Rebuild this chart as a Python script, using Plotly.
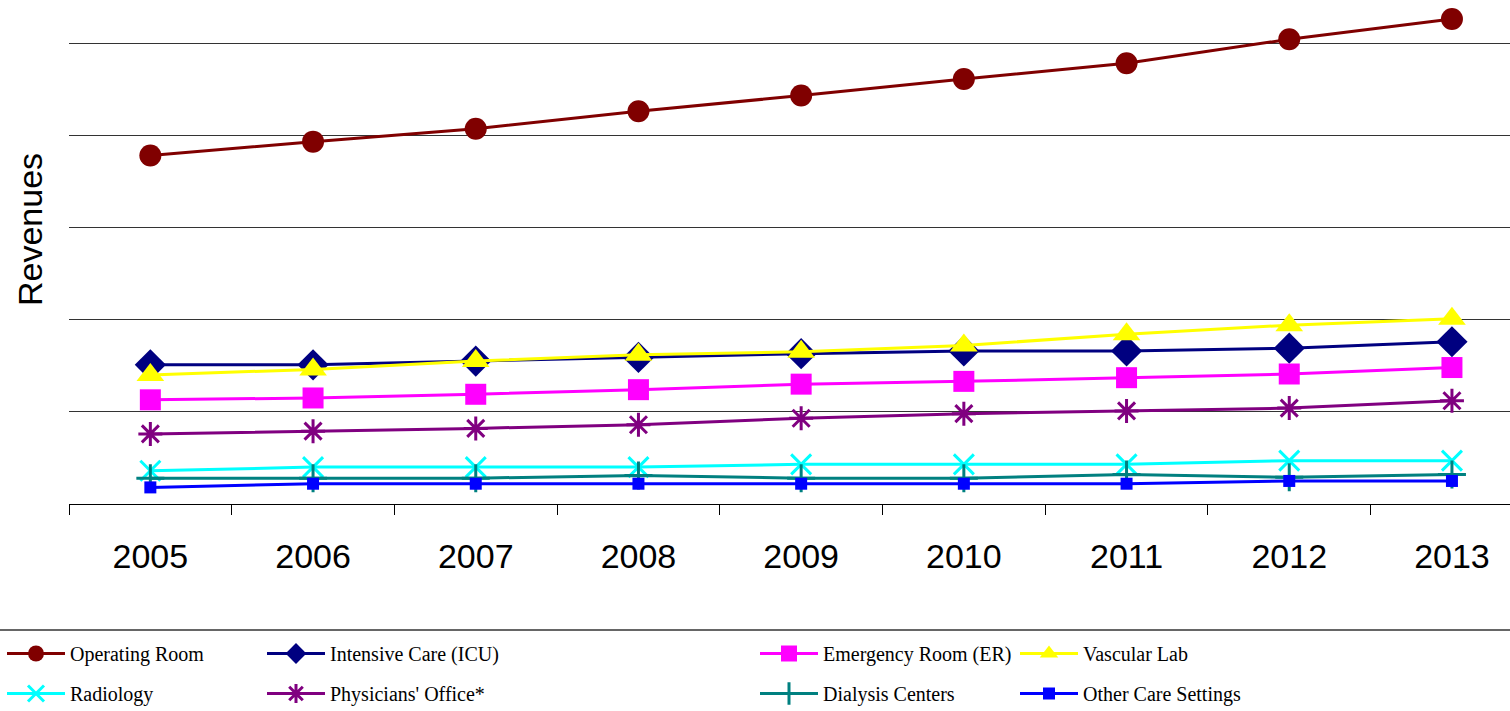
import plotly.graph_objects as go

years = ["2005", "2006", "2007", "2008", "2009", "2010", "2011", "2012", "2013"]

operating_room = [378, 393, 407, 426, 443, 461, 478, 504, 526]
intensive_care = [151, 151, 155, 159, 163, 166, 166, 169, 176]
emergency_room = [113, 115, 119, 124, 130, 133, 137, 141, 148]
vascular_lab = [140, 146, 155, 162, 165, 172, 184, 194, 201]
radiology = [36, 40, 40, 40, 43, 43, 43, 47, 47]
physicians_office = [76, 79, 82, 86, 93, 98, 101, 104, 112]
dialysis_centers = [28, 28, 28, 31, 28, 28, 32, 29, 32]
other_care = [18, 22, 22, 22, 22, 22, 22, 25, 25]

series = [
    ("Operating Room", operating_room, "#800000", "circle", 22, "legend"),
    ("Intensive Care (ICU)", intensive_care, "#000080", "diamond", 24, "legend2"),
    ("Emergency Room (ER)", emergency_room, "#FF00FF", "square", 21, "legend3"),
    ("Vascular Lab", vascular_lab, "#FFFF00", "triangle-up", 24, "legend4"),
    ("Radiology", radiology, "#00FFFF", "x-thin-open", 20, "legend"),
    ("Physicians' Office*", physicians_office, "#800080", "asterisk-open", 20, "legend2"),
    ("Dialysis Centers", dialysis_centers, "#008080", "cross-thin-open", 20, "legend3"),
    ("Other Care Settings", other_care, "#0000FF", "square", 12, "legend4"),
]

fig = go.Figure()
for name, vals, color, sym, size, leg in series:
    fig.add_trace(go.Scatter(
        x=years, y=vals, name=name, mode="lines+markers",
        line=dict(color=color, width=3),
        marker=dict(symbol=sym, size=size, color=color,
                    line=dict(color=color, width=3 if "open" in sym else 0)),
        legend=leg, legendgroup=name, cliponaxis=False,
    ))

W, H = 1510, 711
plot_left, plot_right, plot_top, plot_bottom = 69, 1510, 0, 504
ml = plot_left
mr = W - plot_right
mt = plot_top
mb = H - plot_bottom
pw = plot_right - plot_left
ph = plot_bottom - plot_top
px_per_unit = 0.922

def px_x(p):
    return (p - plot_left) / pw

def px_y(p):
    return (plot_bottom - p) / ph

legend_common = dict(
    font=dict(family="Liberation Serif", size=20, color="#000"),
    bgcolor="rgba(0,0,0,0)", borderwidth=0,
    orientation="v", xanchor="left", yanchor="top",
    xref="container", yref="container",
    itemwidth=58, tracegroupgap=11, itemsizing="trace",
)
ytop = 1 - 634 / H
fig.update_layout(
    legend=dict(x=2 / W, y=ytop, **legend_common),
    legend2=dict(x=262 / W, y=ytop, **legend_common),
    legend3=dict(x=755 / W, y=ytop, **legend_common),
    legend4=dict(x=1015 / W, y=ytop, **legend_common),
)

fig.update_layout(
    width=W, height=H,
    margin=dict(l=ml, r=mr, t=mt, b=mb, pad=0, autoexpand=False),
    plot_bgcolor="white", paper_bgcolor="white",
    showlegend=True,
    xaxis=dict(
        type="category", range=[-0.5, -0.5 + pw / 162.7], tickson="boundaries",
        ticks="outside", ticklen=10, tickcolor="#000", tickwidth=1,
        showline=True, linecolor="#000", linewidth=1,
        showgrid=False, zeroline=False,
        tickfont=dict(family="Liberation Sans, Arial", size=34, color="#000"),
        ticklabelstandoff=22,
    ),
    yaxis=dict(
        range=[0, ph / px_per_unit], showticklabels=False, ticks="",
        tickvals=[100, 200, 300, 400, 500],
        showgrid=True, gridcolor="#333333", gridwidth=1,
        zeroline=False, showline=False,
    ),
    annotations=[dict(
        text="Revenues", textangle=-90, xref="paper", yref="paper",
        x=px_x(30), y=px_y(230), xanchor="center", yanchor="middle",
        showarrow=False,
        font=dict(family="Liberation Sans, Arial", size=34, color="#000"),
    )],
    shapes=[dict(
        type="line", xref="paper", yref="paper",
        x0=px_x(-10), x1=px_x(1520), y0=px_y(630), y1=px_y(630),
        line=dict(color="#333333", width=1.5),
    )],
)

fig.write_html(
    "out.html",
    config={"displayModeBar": False},
    post_script="document.body.style.margin='0';document.body.style.overflow='hidden';",
)
